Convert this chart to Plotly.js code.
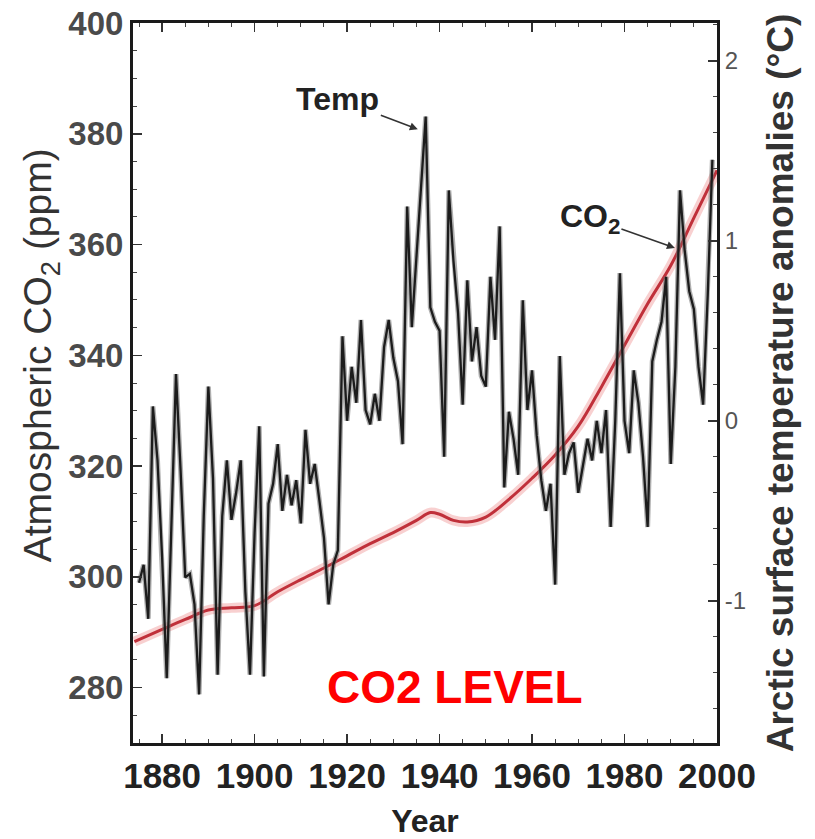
<!DOCTYPE html>
<html>
<head>
<meta charset="utf-8">
<script src="https://cdn.plot.ly/plotly-3.0.1.min.js"></script>
<style>
  html, body { margin: 0; padding: 0; background: #ffffff; }
  #chart { width: 815px; height: 839px; }
</style>
</head>
<body>
<div id="chart"></div>
<script>
// ---- Data ----
var co2Years = [1874, 1880, 1885, 1890, 1895, 1900, 1905, 1910, 1915, 1920, 1925, 1930, 1935, 1938,
                1940, 1943, 1946, 1950, 1955, 1960, 1965, 1970, 1975, 1980, 1985, 1990, 1995, 2000];
var co2Ppm   = [288.3, 290.5, 292.3, 294.0, 294.4, 294.8, 297.3, 299.5, 301.6, 303.8, 306.0, 308.0, 310.2, 311.6,
                311.3, 310.2, 309.9, 310.8, 314.0, 317.8, 322.0, 327.2, 334.3, 341.8, 349.3, 356.2, 364.8, 373.4];

var tempYears = [1875,1876,1877,1878,1879,1880,1881,1882,1883,1884,1885,1886,1887,1888,1889,
                 1890,1891,1892,1893,1894,1895,1896,1897,1898,1899,1900,1901,1902,1903,1904,
                 1905,1906,1907,1908,1909,1910,1911,1912,1913,1914,1915,1916,1917,1918,1919,
                 1920,1921,1922,1923,1924,1925,1926,1927,1928,1929,1930,1931,1932,1933,1934,
                 1935,1936,1937,1938,1939,1940,1941,1942,1943,1944,1945,1946,1947,1948,1949,
                 1950,1951,1952,1953,1954,1955,1956,1957,1958,1959,1960,1961,1962,1963,1964,
                 1965,1966,1967,1968,1969,1970,1971,1972,1973,1974,1975,1976,1977,1978,1979,
                 1980,1981,1982,1983,1984,1985,1986,1987,1988,1989,1990,1991,1992,1993,1994,
                 1995,1996,1997,1998,1999];
var tempAnom  = [-0.90,-0.80,-1.10, 0.08,-0.22,-0.76,-1.43,-0.55, 0.26,-0.28,-0.87,-0.85,-1.02,-1.52,-0.53,
                  0.19,-0.32,-1.41,-0.53,-0.22,-0.55,-0.40,-0.22,-0.95,-1.41,-0.62,-0.03,-1.42,-0.46,-0.35,
                 -0.13,-0.50,-0.30,-0.47,-0.33,-0.57,-0.05,-0.35,-0.24,-0.44,-0.65,-1.02,-0.80,-0.72, 0.47,
                  0.00, 0.30, 0.10, 0.56, 0.06,-0.02, 0.15, 0.00, 0.41, 0.56, 0.35, 0.22,-0.13, 1.19, 0.52,
                  0.90, 1.25, 1.69, 0.63, 0.55, 0.50,-0.20, 1.28, 0.89, 0.60, 0.09, 0.78, 0.33, 0.52, 0.25,
                  0.19, 0.80, 0.45, 1.08,-0.37, 0.05,-0.10,-0.30, 0.67, 0.06, 0.28,-0.08,-0.33,-0.50,-0.35,
                 -0.91, 0.36,-0.30,-0.18,-0.12,-0.40,-0.25,-0.10,-0.22, 0.00,-0.18, 0.06,-0.59, 0.00, 0.82,
                  0.00,-0.18, 0.28, 0.10,-0.20,-0.59, 0.33, 0.45, 0.55, 0.80,-0.24, 0.30, 1.28, 0.95, 0.72,
                  0.62, 0.30, 0.09, 0.70, 1.45];

var xTickVals = [1880, 1900, 1920, 1940, 1960, 1980, 2000];
var yTickVals = [280, 300, 320, 340, 360, 380, 400];
var y2TickVals = [-1, 0, 1, 2];

var FONT = 'Liberation Sans, Arial, Helvetica, sans-serif';

var traces = [
  { x: tempYears, y: tempAnom, yaxis: 'y2', type: 'scatter', mode: 'lines',
    line: { color: 'rgba(110,110,110,0.55)', width: 5 }, hoverinfo: 'skip', showlegend: false },
  { x: tempYears, y: tempAnom, yaxis: 'y2', type: 'scatter', mode: 'lines', name: 'Temp',
    line: { color: '#1c1c1c', width: 2.3 }, showlegend: false },
  { x: co2Years, y: co2Ppm, yaxis: 'y', type: 'scatter', mode: 'lines', line: { color: 'rgba(240,150,150,0.45)', width: 10, shape: 'spline' },
    hoverinfo: 'skip', showlegend: false },
  { x: co2Years, y: co2Ppm, yaxis: 'y', type: 'scatter', mode: 'lines', name: 'CO2',
    line: { color: '#c0303a', width: 3, shape: 'spline' }, showlegend: false }
];

var layout = {
  width: 815, height: 839,
  margin: { l: 133, r: 98, t: 23, b: 96 },
  paper_bgcolor: '#ffffff', plot_bgcolor: '#ffffff',
  showlegend: false,
  font: { family: FONT, color: '#222' },
  xaxis: {
    range: [1873.7, 2000], tickvals: xTickVals, ticktext: xTickVals.map(String),
    showgrid: false, zeroline: false,
    showline: true, linecolor: '#1a1a1a', linewidth: 3, mirror: 'ticks',
    ticks: 'inside', ticklen: 9, tickwidth: 1.5, tickcolor: '#333',
    minor: { dtick: 5, tick0: 1880, ticks: 'inside', ticklen: 4, tickwidth: 1, tickcolor: '#444', showgrid: false },
    tickfont: { family: FONT, size: 35, color: '#222', weight: 'bold' },
    title: { text: '<b>Year</b>', font: { family: FONT, size: 32, color: '#222' }, standoff: 22 }
  },
  yaxis: {
    range: [270, 400], tickvals: yTickVals, ticktext: yTickVals.map(String),
    showgrid: false, zeroline: false,
    showline: true, linecolor: '#1a1a1a', linewidth: 3,
    ticks: 'inside', ticklen: 9, tickwidth: 1.5, tickcolor: '#333',
    minor: { dtick: 5, tick0: 280, ticks: 'inside', ticklen: 4, tickwidth: 1, tickcolor: '#444', showgrid: false },
    tickfont: { family: FONT, size: 33, color: '#4a4a4a', weight: 'bold' }
  },
  yaxis2: {
    overlaying: 'y', side: 'right',
    range: [-1.79, 2.21], tickvals: y2TickVals, ticktext: ['-1', '0', '1', '2'],
    showgrid: false, zeroline: false,
    showline: true, linecolor: '#1a1a1a', linewidth: 3,
    ticks: 'inside', ticklen: 9, tickwidth: 1.5, tickcolor: '#333',
    minor: { dtick: 0.2, tick0: 0, ticks: 'inside', ticklen: 4, tickwidth: 1, tickcolor: '#444', showgrid: false },
    tickfont: { family: FONT, size: 24, color: '#555' },
    title: { text: '<b>Arctic surface temperature anomalies (°C)</b>', font: { family: FONT, size: 37, color: '#333' }, standoff: 22 }
  },
  annotations: [
    { x: -0.157, y: 0.539, xref: 'paper', yref: 'paper', text: 'Atmospheric CO<sub>2</sub> (ppm)',
      textangle: -90, showarrow: false, xanchor: 'center', yanchor: 'middle',
      font: { family: FONT, size: 39, color: '#333' } },
    { x: 1935.3, y: 1.62, xref: 'x', yref: 'y2', text: '<b>Temp</b>',
      showarrow: true, arrowhead: 2, arrowsize: 1, arrowwidth: 1.6, arrowcolor: '#333',
      ax: -80, ay: -30, font: { family: FONT, size: 32, color: '#222' } },
    { x: 1990.9, y: 0.96, xref: 'x', yref: 'y2', text: '<b>CO<sub>2</sub></b>',
      showarrow: true, arrowhead: 2, arrowsize: 1, arrowwidth: 1.6, arrowcolor: '#333',
      ax: -85, ay: -30, font: { family: FONT, size: 32, color: '#222' } },
    { x: 0.551, y: 0.078, xref: 'paper', yref: 'paper', text: '<b>CO2 LEVEL</b>', showarrow: false,
      xanchor: 'center', yanchor: 'middle', font: { family: FONT, size: 46, color: '#ff0000' } }
  ]
};

Plotly.newPlot('chart', traces, layout, { staticPlot: true, displayModeBar: false });
</script>
</body>
</html>
